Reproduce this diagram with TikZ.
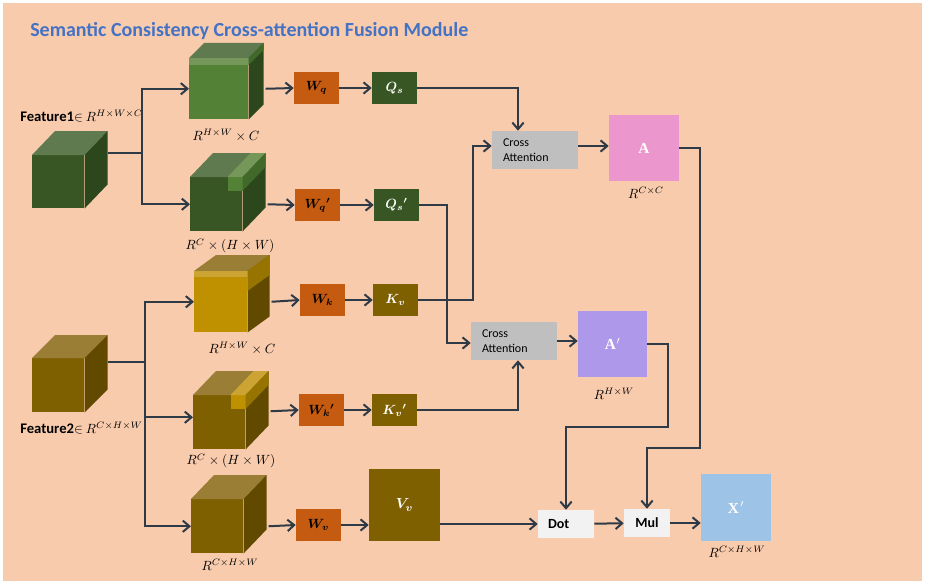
\documentclass[tikz,border=0pt]{standalone}
\usepackage{fontspec}
\setmainfont{Carlito}
\newfontfamily\mapfont{Liberation Serif}
\usepackage{amsmath}
\usepackage{bm}
\usepackage{tikz}
\usetikzlibrary{arrows.meta, positioning, calc}
\definecolor{bgpeach}{HTML}{F8CBAD}
\definecolor{titleblue}{HTML}{4472C4}
\definecolor{linkslate}{HTML}{2F3A47}
\definecolor{worange}{HTML}{C55A11}
\definecolor{qgreen}{HTML}{375623}
\definecolor{kbrown}{HTML}{7F6000}
\definecolor{attngray}{HTML}{BFBFBF}
\definecolor{apink}{HTML}{EC96CE}
\definecolor{aviolet}{HTML}{AE98EA}
\definecolor{xblue}{HTML}{9DC3E6}
\definecolor{opwhite}{HTML}{F2F2F2}
\definecolor{gfront}{HTML}{375623}
\definecolor{gtop}{HTML}{5F7A4E}
\definecolor{gside}{HTML}{2C471C}
\definecolor{gmid}{HTML}{538135}
\definecolor{glight}{HTML}{76975A}
\definecolor{gsidelt}{HTML}{416A2A}
\definecolor{yfront}{HTML}{7F6000}
\definecolor{ytop}{HTML}{9A7E35}
\definecolor{yside}{HTML}{614A00}
\definecolor{ygold}{HTML}{BF9000}
\definecolor{ylight}{HTML}{CCA434}
\definecolor{ysidelt}{HTML}{977400}
\tikzset{
  cubeface/.style={rectangle, inner sep=0pt, anchor=north west},
  wbox/.style={rectangle, fill=worange, minimum width=33.75pt,
    minimum height=24pt, inner sep=0pt, font=\fontsize{10}{12}\selectfont},
  qbox/.style={wbox, fill=qgreen, text=white},
  kbox/.style={wbox, fill=kbrown, text=white},
  attn/.style={rectangle, fill=attngray, minimum height=28.5pt,
    inner xsep=8.25pt, text width=48pt, align=left,
    font=\fontsize{9}{11.25}\selectfont},
  mapbox/.style={rectangle, minimum width=52.5pt, minimum height=49.5pt,
    text=white, font=\mapfont\bfseries\fontsize{11.5}{13}\selectfont},
  opbox/.style={rectangle, fill=opwhite, minimum height=21pt, inner xsep=7.5pt,
    font=\bfseries\fontsize{10.5}{12}\selectfont},
  dimlabel/.style={font=\fontsize{10}{12}\selectfont, inner sep=1pt},
  featlabel/.style={anchor=west, font=\fontsize{10}{12}\selectfont, inner sep=0pt},
  arrow/.style={-{Straight Barb[length=5pt,width=8.5pt]}, line width=1.5pt, color=linkslate},
  line/.style={line width=1.5pt, color=linkslate}
}
% top and right faces of a cube whose front face is node #1
\newcommand{\cubefaces}[5]{%
  \fill[#4] (#1.north west) -- ++(#2,-#3) -- ($(#1.north east)+(#2,-#3)$) -- (#1.north east) -- cycle;
  \fill[#5] (#1.north east) -- ++(#2,-#3) -- ($(#1.south east)+(#2,-#3)$) -- (#1.south east) -- cycle;
}
\begin{document}
\begin{tikzpicture}[x=0.75pt, y=-0.75pt]
  \useasboundingbox (0,0) rectangle (925,585);
  \fill[bgpeach] (3,3) rectangle (922,581);

  \node[anchor=base west, inner sep=0pt, text=titleblue,
    font=\bfseries\fontsize{15}{18}\selectfont] (title) at (30,37)
    {Semantic Consistency Cross-attention Fusion Module};

  % feature cubes
  \node[cubeface, fill=gfront, minimum width=39pt, minimum height=39.75pt] (f1) at (32,155) {};
  \cubefaces{f1}{23}{24}{gtop}{gside}
  \node[featlabel] (f1lab) at (20,116) {{\bfseries\fontsize{11}{12}\selectfont Feature1}$\in$ $R^{H\times W\times C}$};

  \node[cubeface, fill=yfront, minimum width=39pt, minimum height=40.5pt] (f2) at (32,358) {};
  \cubefaces{f2}{23}{23}{ytop}{yside}
  \node[featlabel] (f2lab) at (20,428) {{\bfseries\fontsize{11}{12}\selectfont Feature2}$\in$ $R^{C\times H\times W}$};

  % reshaped cubes
  \node[cubeface, fill=gmid, minimum width=44.25pt, minimum height=45.75pt] (c1) at (189,58) {};
  \cubefaces{c1}{15}{15}{gtop}{gside}
  \fill[glight] (c1.north west) rectangle ($(c1.north east)+(0,7)$);
  \fill[gsidelt] (c1.north east) -- ++(15,-15) -- ++(0,7) -- ++(-15,15) -- cycle;
  \node[dimlabel] (c1lab) at (226,135) {$R^{H\times W}\times C$};

  \node[cubeface, fill=gfront, minimum width=39pt, minimum height=40.5pt] (c2) at (190,177) {};
  \cubefaces{c2}{23}{24}{gtop}{gside}
  \fill[gmid] ($(c2.north east)+(-15,0)$) rectangle ($(c2.north east)+(0,14)$);
  \fill[glight] ($(c2.north east)+(-15,0)$) -- ++(23,-24) -- ++(15,0) -- (c2.north east) -- cycle;
  \fill[gsidelt] (c2.north east) -- ++(23,-24) -- ++(0,14) -- ++(-23,24) -- cycle;
  \node[dimlabel] (c2lab) at (230,246) {$R^{C}\times(H\times W)$};

  \node[cubeface, fill=ygold, minimum width=39.75pt, minimum height=45.75pt] (c3) at (194,271) {};
  \cubefaces{c3}{22}{16}{ytop}{yside}
  \fill[ylight] (c3.north west) rectangle ($(c3.north east)+(0,6)$);
  \fill[ysidelt] (c3.north east) -- ++(22,-16) -- ++(0,20) -- ++(-22,16) -- cycle;
  \node[dimlabel] (c3lab) at (242,348) {$R^{H\times W}\times C$};

  \node[cubeface, fill=yfront, minimum width=39pt, minimum height=40.5pt] (c4) at (193,395) {};
  \cubefaces{c4}{23}{24}{ytop}{yside}
  \fill[ygold] ($(c4.north east)+(-15,0)$) rectangle ($(c4.north east)+(0,14)$);
  \fill[ylight] ($(c4.north east)+(-15,0)$) -- ++(23,-24) -- ++(15,0) -- (c4.north east) -- cycle;
  \fill[ysidelt] (c4.north east) -- ++(23,-24) -- ++(0,14) -- ++(-23,24) -- cycle;
  \node[dimlabel] (c4lab) at (231,461) {$R^{C}\times(H\times W)$};

  \node[cubeface, fill=yfront, minimum width=39pt, minimum height=40.5pt] (c5) at (191,499) {};
  \cubefaces{c5}{23}{24}{ytop}{yside}
  \node[dimlabel] (c5lab) at (230,565) {$R^{C\times H\times W}$};

  % projections
  \node[wbox] (wq) at (316.5,88) {$\bm{W_q}$};
  \node[wbox] (wq2) at (317.5,205) {$\bm{W_q{}'}$};
  \node[wbox] (wk) at (322.5,300) {$\bm{W_k}$};
  \node[wbox] (wk2) at (321.5,410) {$\bm{W_k{}'}$};
  \node[wbox] (wv) at (318.5,525) {$\bm{W_v}$};

  \node[qbox] (qs) at (394.5,88) {$\bm{Q_s}$};
  \node[qbox] (qs2) at (396.5,205) {$\bm{Q_s{}'}$};
  \node[kbox] (kv) at (395.5,300) {$\bm{K_v}$};
  \node[kbox] (kv2) at (394.5,410) {$\bm{K_v{}'}$};
  \node[kbox, minimum width=53.25pt, minimum height=54pt,
    font=\fontsize{11}{13}\selectfont] (vv) at (404.5,505) {$\bm{V_v}$};

  \node[attn] (ca1) at (535,150) {Cross\\Attention};
  \node[attn] (ca2) at (514,341) {Cross\\Attention};

  \node[mapbox, fill=apink] (amat) at (644,148) {A};
  \node[dimlabel] (amatlab) at (646,193) {$R^{C\times C}$};
  \node[mapbox, fill=aviolet, minimum width=51.75pt] (aprime) at (612.5,344) {A\kern0.5pt$'$};
  \node[dimlabel] (aprimelab) at (614,394) {$R^{H\times W}$};

  \node[opbox, text width=27pt, align=left] (dot) at (566,524) {Dot};
  \node[opbox, minimum width=34.5pt] (mul) at (647,523) {Mul};
  \node[mapbox, fill=xblue, minimum height=50.25pt] (xout) at (736,507.5) {X\kern1pt$'$};
  \node[dimlabel] (xoutlab) at (737,552) {$R^{C\times H\times W}$};

  % splitting the features
  \coordinate (br1) at (142,153);
  \draw[line] ($(f1.north east)+(23,-2)$) -- (br1);
  \draw[arrow] (br1) |- (c1.west);
  \draw[arrow] (br1) |- (c2.west);

  \coordinate (br2) at (145,362);
  \draw[line] ($(f2.north east)+(23,4)$) -- (br2);
  \draw[arrow] (br2) |- (c3.west);
  \draw[arrow] (br2) |- ($(c4.west)+(0,-5)$);
  \draw[arrow] (br2) |- (c5.west);

  \draw[arrow] ($(c1.east)+(17,0)$) -- (wq.west);
  \draw[arrow] ($(c2.east)+(25,0)$) -- (wq2.west);
  \draw[arrow] ($(c3.east)+(24,0)$) -- (wk.west);
  \draw[arrow] ($(c4.east)+(25,-11)$) -- (wk2.west);
  \draw[arrow] ($(c5.east)+(25,0)$) -- (wv.west);

  \draw[arrow] (wq) -- (qs);
  \draw[arrow] (wq2) -- (qs2);
  \draw[arrow] (wk) -- (kv);
  \draw[arrow] (wk2) -- (kv2);
  \draw[arrow] (wv.east) -- (wv.east -| vv.west);

  % attention
  \draw[arrow] (qs.east) -| ($(ca1.north)+(-17,0)$);
  \draw[arrow] (kv.east) -- ++(55,0) |- ($(ca1.west)+(0,-4)$);
  \draw[arrow] (qs2.east) -- ++(28,0) |- ($(ca2.west)+(0,2)$);
  \draw[arrow] (kv2.east) -| ($(ca2.south)+(4,0)$);
  \draw[arrow] ($(ca1.east)+(0,-4)$) -- ($(amat.west)+(0,-2)$);
  \draw[arrow] (ca2.east) -- (ca2.east -| aprime.west);

  % fusion
  \draw[arrow] (amat.east) -- ++(21,0) -- ++(0,300) -| (mul.north);
  \draw[arrow] (aprime.east) -- ++(21,0) -- ++(0,83) -| (dot.north);
  \draw[arrow] (dot -| vv.east) -- (dot.west);
  \draw[arrow] (dot) -- (mul);
  \draw[arrow] (mul) -- (mul -| xout.west);
\end{tikzpicture}
\end{document}
